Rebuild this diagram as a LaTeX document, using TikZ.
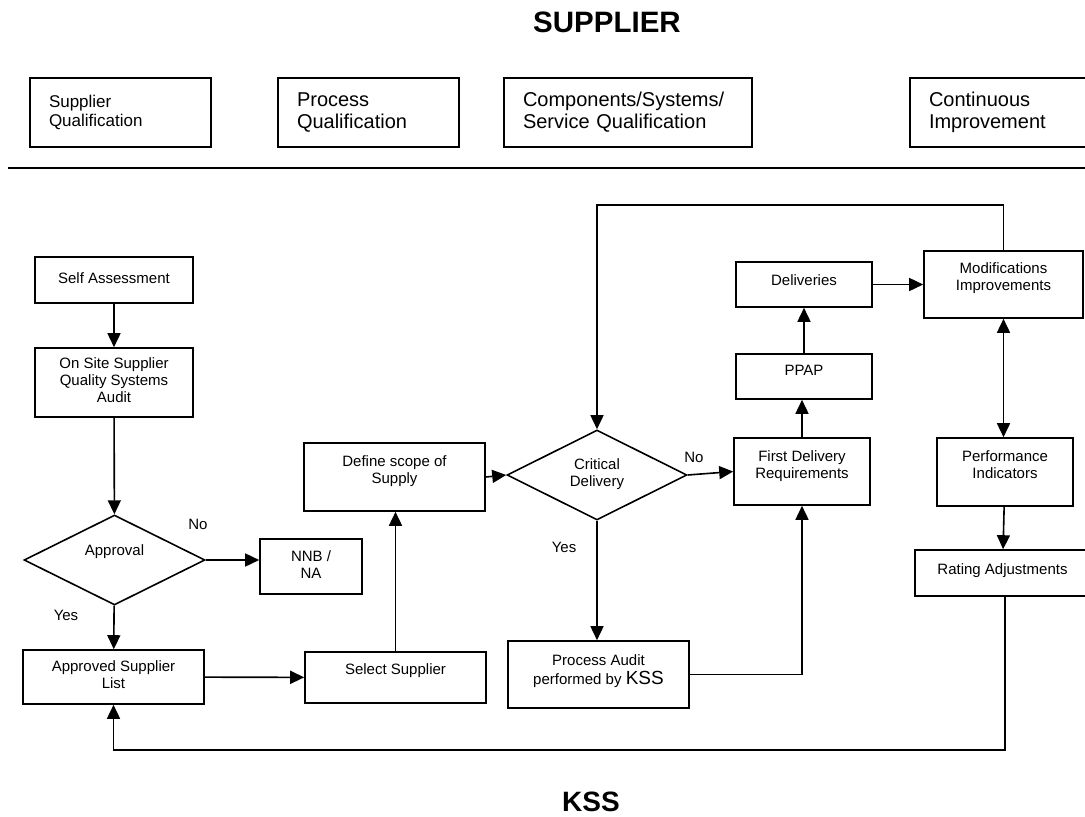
\documentclass[tikz,border=0pt]{standalone}
\usepackage{fontspec}
\setmainfont{Liberation Sans}
\usetikzlibrary{arrows.meta,shapes.geometric}
\newcommand\mltext[1]{\begin{tabular}{@{}c@{}}#1\end{tabular}}
\newcommand\lift[2]{\vphantom{\mltext{#2}}\raisebox{#1}{\smash{\mltext{#2}}}}
\begin{document}
\begin{tikzpicture}[x=1pt,y=-1pt,
  box/.style={draw, line width=1.6pt, inner sep=0pt, font=\fontsize{15}{17}\selectfont},
  dia/.style={draw, diamond, line width=1.6pt, inner sep=0pt, aspect=2, font=\fontsize{15}{17}\selectfont},
  topbox/.style={draw, line width=1.6pt, inner xsep=19pt, inner ysep=0pt, minimum height=69pt, align=left},
  lbl/.style={inner sep=0pt, font=\fontsize{15}{17}\selectfont},
  ttl/.style={inner sep=0pt, font=\bfseries\fontsize{28}{32}\selectfont},
  arr/.style={-{Triangle[length=14pt,width=13pt]}, line width=1.6pt},
  dbl/.style={{Triangle[length=14pt,width=13pt]}-{Triangle[length=14pt,width=13pt]}, line width=1.6pt},
  ln/.style={line width=1.6pt}
]
\useasboundingbox (0,0) rectangle (1085,817);

% titles
\node[ttl, font=\bfseries\fontsize{29.5}{32}\selectfont] (supplier) at (607,22) {SUPPLIER};
\node[ttl] (kss) at (591,802) {KSS};

% top boxes
\node[topbox, text width=143pt, font=\fontsize{17}{19}\selectfont] (tb1) at (120.5,112.5) {Supplier\\Qualification};
\node[topbox, text width=143pt, font=\fontsize{20}{22}\selectfont] (tb2) at (368.5,112.5) {Process\\Qualification};
\node[topbox, text width=210pt, font=\fontsize{20}{22}\selectfont] (tb3) at (628,112.5) {Components/Systems/\\Service Qualification};
\node[topbox, text width=147pt, font=\fontsize{20}{22}\selectfont] (tb4) at (1002.5,112.5) {Continuous\\Improvement};
\coordinate (rl) at (8,168);
\coordinate (rr) at (1085,168);
\draw[line width=2pt] (rl) -- (rr);

% left column
\node[box, minimum width=158pt, minimum height=46pt] (sa) at (114,280) {\mltext{Self Assessment}};
\node[box, minimum width=158pt, minimum height=69pt] (os) at (114,382.5) {\mltext{On Site Supplier\\Quality Systems\\Audit}};
\node[dia, minimum width=181pt, minimum height=90pt] (appr) at (114.5,560) {\lift{8pt}{Approval}};
\node[box, minimum width=102pt, minimum height=55pt] (nnb) at (311,566.5) {\mltext{NNB /\\NA}};
\node[box, minimum width=181pt, minimum height=54pt] (asl) at (113.5,677) {\mltext{Approved Supplier\\List}};
\node[box, minimum width=181pt, minimum height=51pt] (sel) at (395.5,677.5) {\lift{6pt}{Select Supplier}};
\node[box, minimum width=181pt, minimum height=68pt] (def) at (394.5,477) {\lift{5pt}{Define scope of\\Supply}};

% middle
\node[dia, minimum width=180pt, minimum height=90pt] (crit) at (597,475) {\mltext{Critical\\Delivery}};
\node[box, minimum width=181pt, minimum height=67pt] (pa) at (598.5,674.5) {\lift{3pt}{Process Audit\\performed by {\fontsize{19}{17}\selectfont KSS}}};
\node[box, minimum width=136pt, minimum height=67pt] (fdr) at (802,471.5) {\lift{5pt}{First Delivery\\Requirements}};
\node[box, minimum width=136pt, minimum height=45pt] (ppap) at (804,376.5) {\lift{4pt}{PPAP}};
\node[box, minimum width=136pt, minimum height=45pt] (del) at (804,284.5) {\lift{2pt}{Deliveries}};

% right column
\node[box, minimum width=159pt, minimum height=67pt] (mod) at (1003.5,284.5) {\lift{6pt}{Modifications\\Improvements}};
\node[box, minimum width=136pt, minimum height=68pt] (perf) at (1005,472) {\lift{5pt}{Performance\\Indicators}};
\node[box, minimum width=175pt, minimum height=46pt] (rate) at (1002.5,573) {\lift{2pt}{Rating Adjustments}};

% labels
\node[lbl] (no1) at (198,524) {No};
\node[lbl] (yes1) at (66,615) {Yes};
\node[lbl] (no2) at (694,457) {No};
\node[lbl] (yes2) at (564,547) {Yes};

% connectors
\draw[arr] (sa) -- (os);
\draw[arr] (os) -- (appr);
\draw[arr] (appr.east) -- (appr.east -| nnb.west);
\draw[arr] (appr) -- (asl);
\draw[arr] (asl) -- (sel);
\draw[arr] (sel.north) -- (sel.north |- def.south);
\draw[arr] (def.east) -- (crit.west);
\draw[arr] (crit.east) -- (fdr.west);
\draw[arr] (fdr.north) -- (fdr.north |- ppap.south);
\draw[arr] (ppap) -- (del);
\draw[arr] (del) -- (mod);
\draw[arr] (mod.north) -- ++(0,-45) -| (crit.north);
\draw[dbl] (mod.south) -- (mod.south |- perf.north);
\draw[arr] (perf) -- (rate);
\draw[arr] ([xshift=2.5pt]rate.south) -- ++(0,153) -| (asl.south);
\draw[arr] (crit.south) -- (crit.south |- pa.north);
\draw[arr] (pa.east) -| (fdr.south);
\end{tikzpicture}
\end{document}
